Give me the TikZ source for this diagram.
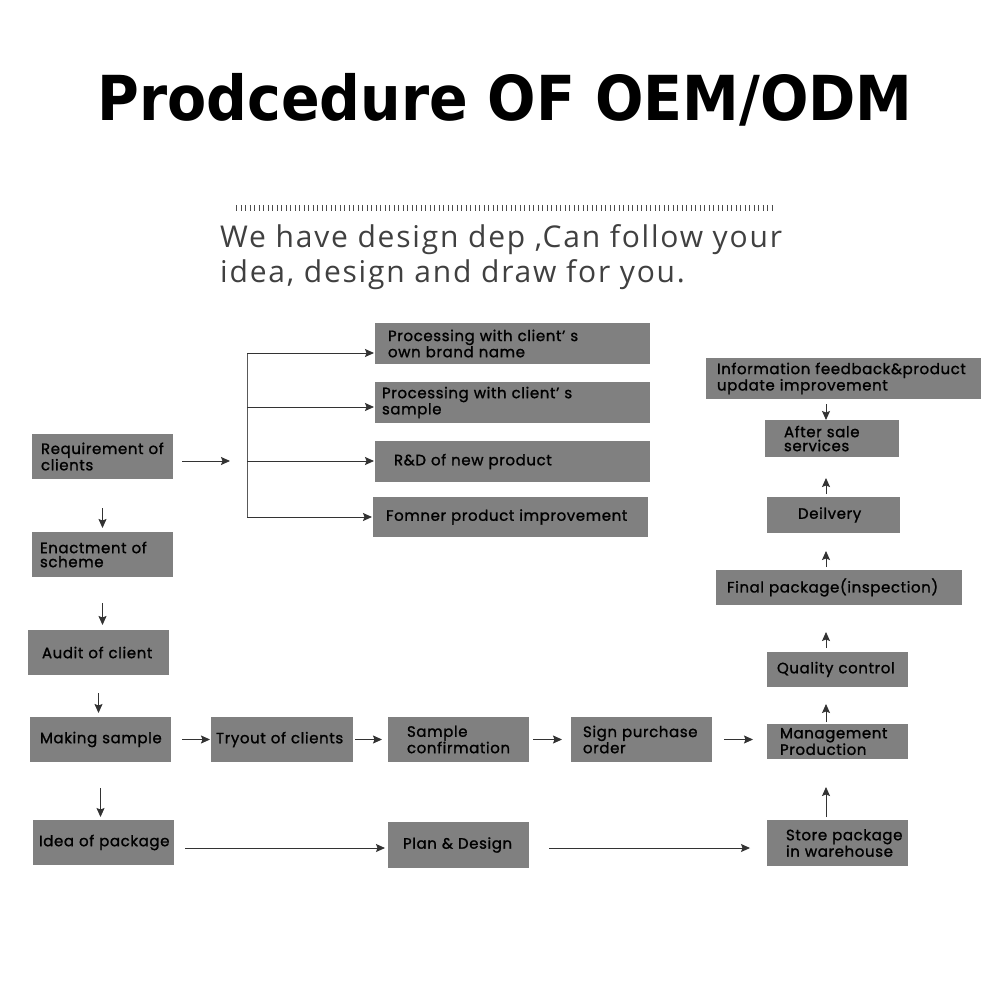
\documentclass[tikz,border=0pt]{standalone}
\usepackage{fontspec}
\setmainfont{Poppins}
\newfontfamily\titlefont[FakeStretch=0.92]{DejaVu Sans}
\newfontfamily\subfont[LetterSpace=6]{Open Sans}
\newfontfamily\boxfont[FakeBold=1.2, LetterSpace=4]{Poppins}
\usetikzlibrary{arrows.meta}
\begin{document}
\begin{tikzpicture}[x=1pt,y=-1pt,
  box/.style={fill=black!50, draw=none, inner xsep=0pt, inner ysep=0pt, outer sep=0pt, align=left, anchor=north west,
    font=\boxfont\fontsize{15}{14}\selectfont, text=black},
  pad/.style={execute at begin node={\leftskip=#1pt\hyphenpenalty=10000\exhyphenpenalty=10000}},
  arr/.style={draw=black!80, line width=0.9pt, -{Stealth[length=9pt,width=8pt,inset=1.5pt]}},
  ln/.style={draw=black!65, line width=0.9pt}]
\useasboundingbox[fill=white] (0,0) rectangle (1000,1000);

\node[font=\titlefont\bfseries\fontsize{62}{70}\selectfont] (title) at (505,100) {Prodcedure OF OEM/ODM};
\draw[black!70, line width=6pt, dash pattern=on 1pt off 3.5pt] (236,208) -- (773,208);
\node[anchor=north west, align=left, inner sep=0pt, text=black!75,
  font=\subfont\fontsize{30}{35}\selectfont] (sub) at (220,224)
  {We have design dep ,Can follow your\\idea, design and draw for you.};

% boxes
\node[box, text width=141, minimum height=45, pad=9] (req) at (32,434) {Requirement of\\clients};
\node[box, text width=141, minimum height=45, pad=8] (enact) at (32,532) {Enactment of\\scheme};
\node[box, text width=141, minimum height=45, pad=14] (audit) at (28,630) {Audit of client};
\node[box, text width=141, minimum height=45, pad=10] (making) at (30,717) {Making sample};
\node[box, text width=141, minimum height=45, pad=6] (idea) at (33,820) {Idea of package};
\node[box, text width=142, minimum height=45, pad=5] (tryout) at (211,717) {Tryout of clients};
\node[box, text width=141, minimum height=45, pad=19] (sconf) at (388,717) {Sample\\confirmation};
\node[box, text width=141, minimum height=45, pad=12] (sign) at (571,717) {Sign purchase\\order};
\node[box, text width=141, minimum height=35, pad=13] (mgmt) at (767,724) {Management\\Production};
\node[box, text width=141, minimum height=46, pad=15] (plan) at (388,822) {Plan \& Design};
\node[box, text width=141, minimum height=46, pad=19] (store) at (767,820) {Store package\\in warehouse};
\node[box, text width=141, minimum height=35, pad=10] (quality) at (767,652) {Quality control};
\node[box, text width=246, minimum height=35, pad=11] (final) at (716,570) {Final package(inspection)};
\node[box, text width=133, minimum height=36, pad=31] (deil) at (767,497) {Deilvery};
\node[box, text width=134, minimum height=37, pad=19] (after) at (765,420) {After sale\\services};
\node[box, text width=275, minimum height=41, pad=11] (info) at (706,358) {Information feedback\&product\\update improvement};
\node[box, text width=275, minimum height=41, pad=13] (brand) at (375,323) {Processing with client’ s\\own brand name};
\node[box, text width=275, minimum height=41, pad=7] (psample) at (375,382) {Processing with client’ s\\sample};
\node[box, text width=275, minimum height=41, pad=19] (rnd) at (375,441) {R\&D of new product};
\node[box, text width=275, minimum height=40, pad=13] (fomner) at (373,497) {Fomner product improvement};

% tree
\coordinate (split) at (247,461);
\coordinate (t1) at (247,353);
\coordinate (t2) at (247,407);
\coordinate (t3) at (247,461);
\coordinate (t4) at (247,517);
\draw[arr, shorten <=9pt, shorten >=17pt] (req.east |- split) -- (split);
\draw[ln] (t1) -- (t4);
\draw[arr, shorten >=1pt] (t1) -- (t1 -| brand.west);
\draw[arr, shorten >=1pt] (t2) -- (t2 -| psample.west);
\draw[arr, shorten >=1pt] (t3) -- (t3 -| rnd.west);
\draw[arr, shorten >=1pt] (t4) -- (t4 -| fomner.west);

% left column
\draw[arr, shorten <=29pt, shorten >=4pt] (req.south) -- (req.south |- enact.north);
\draw[arr, shorten <=26pt, shorten >=5pt] (enact.south) -- (enact.south |- audit.north);
\draw[arr, shorten <=18pt, shorten >=4pt] (audit.south) -- (audit.south |- making.north);
\draw[arr, shorten <=26pt, shorten >=3pt] (making.south) -- (making.south |- idea.north);

% middle row
\draw[arr, shorten <=11pt, shorten >=1pt] (making.east) -- (making.east -| tryout.west);
\draw[arr, shorten <=2pt, shorten >=6pt] (tryout.east) -- (tryout.east -| sconf.west);
\draw[arr, shorten <=4pt, shorten >=9pt] (sconf.east) -- (sconf.east -| sign.west);
\draw[arr, shorten <=12pt, shorten >=14pt] (sign.east) -- (sign.east -| mgmt.west);

% bottom row
\coordinate (row) at (0,848);
\draw[arr, shorten <=11pt, shorten >=3pt] (idea.east |- row) -- (plan.west |- row);
\draw[arr, shorten <=20pt, shorten >=17pt] (plan.east |- row) -- (store.west |- row);

% right column
\coordinate (col) at (826,0);
\draw[arr, shorten <=3pt, shorten >=28pt] (store.north -| col) -- (mgmt.south -| col);
\draw[arr, shorten <=2pt, shorten >=17pt] (mgmt.north -| col) -- (quality.south -| col);
\draw[arr, shorten <=4pt, shorten >=27pt] (quality.north -| col) -- (final.south -| col);
\draw[arr, shorten <=3pt, shorten >=18pt] (final.north -| col) -- (deil.south -| col);
\draw[arr, shorten <=3pt, shorten >=21pt] (deil.north -| col) -- (after.south -| col);
\draw[arr, shorten <=5pt, shorten >=0pt] (info.south -| col) -- (after.north -| col);
\end{tikzpicture}
\end{document}
